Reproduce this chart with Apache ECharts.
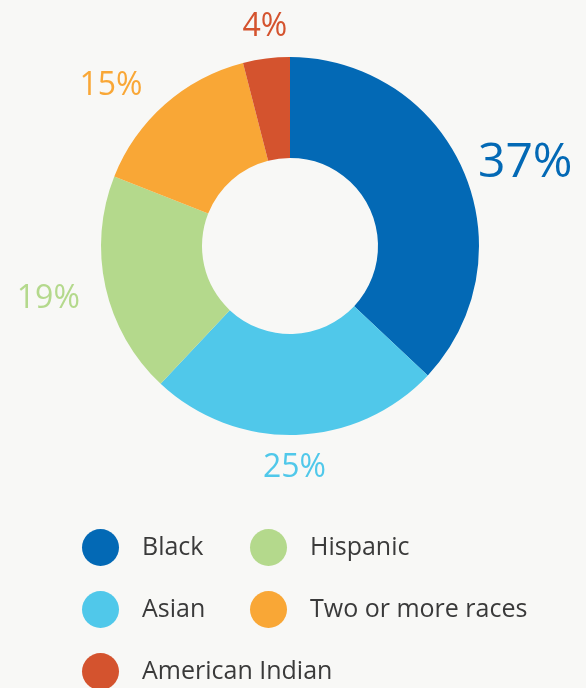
<!DOCTYPE html>
<html>
<head>
<meta charset="utf-8">
<script src="https://cdn.jsdelivr.net/npm/echarts@6/dist/echarts.min.js"></script>
<style>
  html, body { margin: 0; padding: 0; background: #F8F8F6; }
  #chart { width: 586px; height: 688px; }
</style>
</head>
<body>
<div id="chart"></div>
<script>
const categories = ['Black', 'Asian', 'Hispanic', 'Two or more races', 'American Indian'];
const values = [37, 25, 19, 15, 4];
const colors = ['#0369B5', '#50C8EA', '#B4D98C', '#F9A736', '#D4532E'];
const labelSizes = [48, 32, 32, 32, 32];
const lineLen = [18, 33, 54, 25, 32];
const labelDist = [-2, -34, -27, 6, -25];

const chart = echarts.init(document.getElementById('chart'));
const font = '"Open Sans", Lato, sans-serif';

const data = categories.map((name, i) => ({
  name: name,
  value: values[i],
  itemStyle: { color: colors[i] },
  label: {
    color: colors[i],
    fontSize: labelSizes[i],
    distanceToLabelLine: labelDist[i]
  },
  labelLine: { length: lineLen[i], length2: 0, show: false }
}));

const legendText = { color: '#3A3A3A', fontSize: 25, fontWeight: 'normal', fontFamily: font, padding: [0, 0, 0, 18] };

chart.setOption({
  backgroundColor: '#F8F8F6',
  animation: false,
  legend: [
    {
      data: ['Black', 'Asian', 'American Indian'],
      orient: 'vertical',
      left: 82, top: 529, height: 200, padding: 0,
      icon: 'circle', itemWidth: 37, itemHeight: 37, itemGap: 25,
      textStyle: legendText
    },
    {
      data: ['Hispanic', 'Two or more races'],
      orient: 'vertical',
      left: 250, top: 529, height: 200, padding: 0,
      icon: 'circle', itemWidth: 37, itemHeight: 37, itemGap: 25,
      textStyle: legendText
    }
  ],
  series: [{
    type: 'pie',
    center: [290, 246],
    radius: [88, 189],
    startAngle: 90,
    clockwise: true,
    avoidLabelOverlap: false,
    itemStyle: { borderWidth: 0 },
    label: {
      show: true,
      position: 'outside',
      formatter: '{c}%',
      fontFamily: font,
      fontWeight: 'normal'
    },
    labelLine: { show: false },
    emphasis: { disabled: true },
    data: data
  }]
});
</script>
</body>
</html>
